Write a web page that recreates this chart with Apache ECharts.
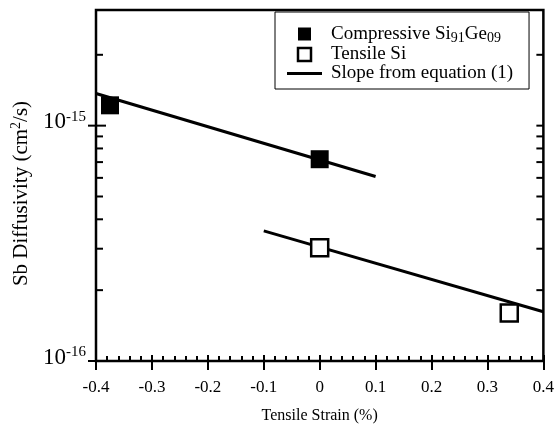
<!DOCTYPE html>
<html>
<head>
<meta charset="utf-8">
<script src="https://cdn.jsdelivr.net/npm/echarts@6/dist/echarts.min.js"></script>
<style>
  html, body { margin: 0; padding: 0; background: #fff; }
  #chart { width: 557px; height: 441px; }
</style>
</head>
<body>
<div id="chart"></div>
<script>
const xMin = -0.4;
const xMax = 0.4;
const yMin = 1e-16;
const yMax = 3.1e-15;

const compressiveStrain = [-0.375, 0];
const compressiveDiff = [1.22e-15, 7.2e-16];
const tensileStrain = [0, 0.339];
const tensileDiff = [3.03e-16, 1.6e-16];

const slope1Strain = [-0.4, 0.1];
const slope1Diff = [1.37e-15, 6.08e-16];
const slope2Strain = [-0.1, 0.4];
const slope2Diff = [3.57e-16, 1.62e-16];

const yMajorTicks = [1e-16, 1e-15];
const yMinorTicks = [2e-16, 3e-16, 4e-16, 5e-16, 6e-16, 7e-16, 8e-16, 9e-16, 2e-15];

const font = 'Liberation Serif';
const pairs = (xs, ys) => xs.map((x, i) => [x, ys[i]]);

const chart = echarts.init(document.getElementById('chart'));

// y ticks are drawn by hand: log axis minor ticks sit at 2..9 of each decade
const tickData = yMajorTicks.map(v => [xMin, v, 1]).concat(yMinorTicks.map(v => [xMin, v, 0]));

const renderTick = (params, api) => {
  const v = api.value(1);
  const major = api.value(2) === 1;
  const l = api.coord([xMin, v]);
  const r = api.coord([xMax, v]);
  const st = { stroke: '#000', lineWidth: 2 };
  return {
    type: 'group',
    children: [
      { type: 'line', shape: { x1: l[0] - (major ? 8 : 0), y1: l[1], x2: l[0] + (major ? 10 : 7), y2: l[1] }, style: st },
      { type: 'line', shape: { x1: r[0] - 7, y1: r[1], x2: r[0], y2: r[1] }, style: st }
    ]
  };
};

const xBase = { type: 'value', min: xMin, max: xMax, interval: 0.1, splitLine: { show: false }, axisLine: { show: false } };
const yBase = { type: 'log', logBase: 10, min: yMin, max: yMax, splitLine: { show: false }, axisLine: { show: false }, axisTick: { show: false } };

chart.setOption({
  animation: false,
  backgroundColor: '#fff',
  textStyle: { fontFamily: font, color: '#000' },
  grid: { left: 96, right: 10, top: 10, bottom: 80, show: true, borderColor: '#000', borderWidth: 2.5, backgroundColor: 'transparent' },
  legend: {
    orient: 'vertical',
    left: 275,
    top: 12,
    itemWidth: 35,
    itemHeight: 13,
    itemGap: 0,
    padding: [11, 16, 6, 12],
    borderColor: '#000',
    borderWidth: 1,
    borderRadius: 0,
    backgroundColor: '#fff',
    selectedMode: false,
    textStyle: {
      fontFamily: font, fontSize: 19, color: '#000', padding: [0, 0, 0, 4],
      rich: {
        t: { fontFamily: font, fontSize: 19, color: '#000', lineHeight: 20 },
        s: { fontFamily: font, fontSize: 14, color: '#000', padding: [8, 0, 0, 0], lineHeight: 14 }
      }
    },
    formatter: name => name === 'Compressive Si91Ge09' ? '{t|Compressive Si}{s|91}{t|Ge}{s|09}' : '{t|' + name + '}',
    data: [
      { name: 'Compressive Si91Ge09', icon: 'path://M0,0H10V10H0Z', itemStyle: { color: '#000' } },
      { name: 'Tensile Si', icon: 'path://M0,0H10V10H0Z', itemStyle: { color: '#fff', borderColor: '#000', borderWidth: 2.5 } },
      { name: 'Slope from equation (1)', icon: 'path://M0,0H35V3H0Z', itemStyle: { color: '#000', borderWidth: 0 } }
    ]
  },
  xAxis: [
    Object.assign({}, xBase, {
      position: 'bottom',
      axisTick: { show: true, inside: false, length: 9, lineStyle: { color: '#000', width: 2 } },
      axisLabel: { color: '#000', fontFamily: font, fontSize: 17, margin: 18 },
      name: 'Tensile Strain (%)',
      nameLocation: 'middle',
      nameGap: 47,
      nameTextStyle: { color: '#000', fontFamily: font, fontSize: 16 }
    }),
    Object.assign({}, xBase, {
      position: 'bottom',
      axisTick: { show: true, inside: true, length: 6, lineStyle: { color: '#000', width: 2 } },
      minorTick: { show: true, splitNumber: 5, length: 5, lineStyle: { color: '#000', width: 2 } },
      axisLabel: { show: false }
    })
  ],
  yAxis: [
    Object.assign({}, yBase, {
      position: 'left',
      axisLabel: {
        color: '#000', fontFamily: font, fontSize: 23, margin: 10,
        formatter: v => {
          const e = Math.round(Math.log10(v));
          if (Math.abs(Math.log10(v) - e) > 1e-6) return '';
          return '{b|10}{p|' + e + '}';
        },
        rich: {
          b: { fontFamily: font, fontSize: 23, color: '#000', padding: [0, 0, 7, 0] },
          p: { fontFamily: font, fontSize: 15, color: '#000', padding: [0, 0, 17, 0] }
        }
      },
      name: '{t|Sb Diffusivity (cm}{s|2}{t|/s)}',
      nameLocation: 'middle',
      nameGap: 56,
      nameTextStyle: {
        padding: [0, 16, 0, 0],
        rich: {
          t: { fontFamily: font, fontSize: 21, color: '#000' },
          s: { fontFamily: font, fontSize: 14, color: '#000', padding: [0, 0, 10, 0] }
        }
      }
    })
  ],
  series: [
    {
      name: 'Slope from equation (1)', type: 'line', symbol: 'none', z: 2,
      lineStyle: { color: '#000', width: 3 }, itemStyle: { color: '#000' },
      data: pairs(slope1Strain, slope1Diff)
    },
    {
      name: 'Slope from equation (1)', type: 'line', symbol: 'none', z: 2,
      lineStyle: { color: '#000', width: 3 }, itemStyle: { color: '#000' },
      data: pairs(slope2Strain, slope2Diff)
    },
    {
      name: 'Compressive Si91Ge09', type: 'scatter', symbol: 'rect', symbolSize: 18, z: 3,
      itemStyle: { color: '#000', opacity: 1 },
      data: pairs(compressiveStrain, compressiveDiff)
    },
    {
      name: 'Tensile Si', type: 'scatter', symbol: 'rect', symbolSize: 17, z: 3,
      itemStyle: { color: '#fff', borderColor: '#000', borderWidth: 2.5, opacity: 1 },
      data: pairs(tensileStrain, tensileDiff)
    },
    {
      name: 'ticks', type: 'custom', silent: true, z: 4, clip: false,
      renderItem: renderTick,
      data: tickData
    }
  ]
});
</script>
</body>
</html>
